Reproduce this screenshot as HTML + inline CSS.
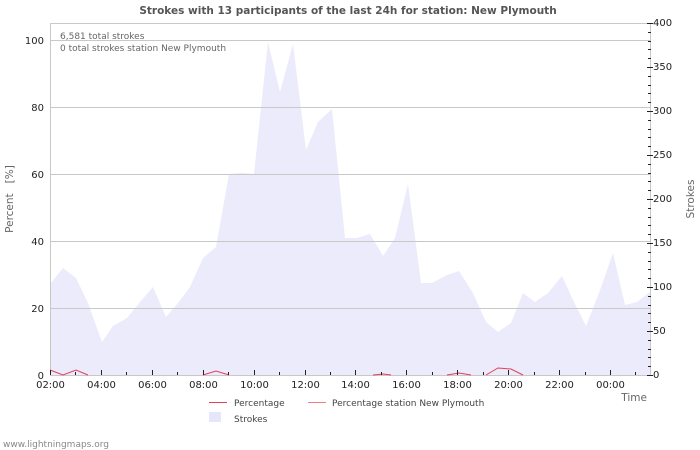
<!DOCTYPE html>
<html><head><meta charset="utf-8"><style>
body{margin:0;background:#fff}
svg{display:block;font-family:"DejaVu Sans","Liberation Sans",sans-serif}
</style></head><body>
<svg width="700" height="450" viewBox="0 0 700 450" xmlns="http://www.w3.org/2000/svg">
<text x="348" y="14" font-size="10.5" font-weight="bold" fill="#555" text-anchor="middle">Strokes with 13 participants of the last 24h for station: New Plymouth</text>
<polygon fill="#ebebfb" points="50,375 50,285 51,283 63,268 76,278 88,303 102,342 113,326 127,318 140,302 153,287 166,317 178,303 190,287 203,258 216,247 229,174 242,173 254,174 268,42 280,92 293,44 306,150 318,122 332,109 345,238 357,238 370,234 383,256 395,238 408,184 421,283 432,283 447,275 459,271 473,293 486,322 498,332 511,323 523,293 535,302 548,293 562,276 573,300 586,326 599,293 613,253 625,305 637,302 650,292 650,375"/>
<g stroke="#c8c8c8" stroke-width="1">
<line x1="50" y1="40.5" x2="650" y2="40.5"/><line x1="50" y1="107.5" x2="650" y2="107.5"/><line x1="50" y1="174.5" x2="650" y2="174.5"/><line x1="50" y1="241.5" x2="650" y2="241.5"/><line x1="50" y1="308.5" x2="650" y2="308.5"/>
<line x1="50" y1="23.5" x2="650" y2="23.5"/>
<line x1="50.5" y1="23" x2="50.5" y2="375"/><line x1="650.5" y1="23" x2="650.5" y2="375"/>
<line x1="50" y1="375.5" x2="650" y2="375.5"/>
</g>
<g fill="none" stroke="#e0405a" stroke-width="1">
<polyline points="50,370 63,375 76,370 88,375"/>
<polyline points="203,375 216,371 229,375"/>
<polyline points="373,375 383,374 391,375"/>
<polyline points="447,375 459,373 471,375"/>
<polyline points="486,375 498,368 511,369 523,375"/>
</g>
<g font-size="10" fill="#222">
<text x="44" y="44" text-anchor="end">100</text><text x="44" y="111" text-anchor="end">80</text><text x="44" y="178" text-anchor="end">60</text><text x="44" y="245" text-anchor="end">40</text><text x="44" y="312" text-anchor="end">20</text><text x="44" y="379" text-anchor="end">0</text>
<text x="653" y="26">400</text><text x="653" y="70">350</text><text x="653" y="114">300</text><text x="653" y="158">250</text><text x="653" y="202">200</text><text x="653" y="246">150</text><text x="653" y="290">100</text><text x="653" y="334">50</text><text x="653" y="378">0</text>
</g>
<g font-size="10" fill="#222" text-anchor="middle" id="xl"></g>
<g stroke="#222" id="tk"></g>
<g stroke="#222" id="rt"></g>
<text x="60" y="39" font-size="9" fill="#666">6,581 total strokes</text>
<text x="60" y="51" font-size="9" fill="#666">0 total strokes station New Plymouth</text>
<text transform="translate(13,199) rotate(-90)" font-size="10.5" fill="#666" text-anchor="middle" xml:space="preserve" style="white-space:pre">Percent   [%]</text>
<text transform="translate(694,199) rotate(-90)" font-size="10.5" fill="#666" text-anchor="middle">Strokes</text>
<text x="647" y="401" font-size="10.5" fill="#666" text-anchor="end">Time</text>
<line x1="209" y1="402.5" x2="227" y2="402.5" stroke="#e0405a"/>
<text x="234" y="406" font-size="9" fill="#444">Percentage</text>
<line x1="308" y1="402.5" x2="326" y2="402.5" stroke="#f08080"/>
<text x="332" y="406" font-size="9" fill="#444">Percentage station New Plymouth</text>
<rect x="209" y="412" width="12" height="10" fill="#e6e6fa"/>
<text x="234" y="422" font-size="9" fill="#444">Strokes</text>
<text x="3" y="447" font-size="9" fill="#888">www.lightningmaps.org</text>
</svg>
<script>
var ns="http://www.w3.org/2000/svg",xl=document.getElementById('xl'),tk=document.getElementById('tk'),rt=document.getElementById('rt');
var labs=["02:00","04:00","06:00","08:00","10:00","12:00","14:00","16:00","18:00","20:00","22:00","00:00"];
var s=560/22;
for(var i=0;i<24;i++){var x=Math.round(50+i*s)+0.5;var l=document.createElementNS(ns,'line');l.setAttribute('x1',x);l.setAttribute('x2',x);l.setAttribute('y1',i%2?372:370);l.setAttribute('y2',375);tk.appendChild(l);
if(i%2==0&&i/2<12){var t=document.createElementNS(ns,'text');t.setAttribute('x',x);t.setAttribute('y',388);t.textContent=labs[i/2];xl.appendChild(t);}}
for(var v=0;v<=400;v+=10){var y=Math.round(375-v*0.88)+0.5;var l=document.createElementNS(ns,'line');l.setAttribute('x1',v%50?648:647);l.setAttribute('x2',v%50?651:653);l.setAttribute('y1',y);l.setAttribute('y2',y);rt.appendChild(l);}
</script>
</body></html>
